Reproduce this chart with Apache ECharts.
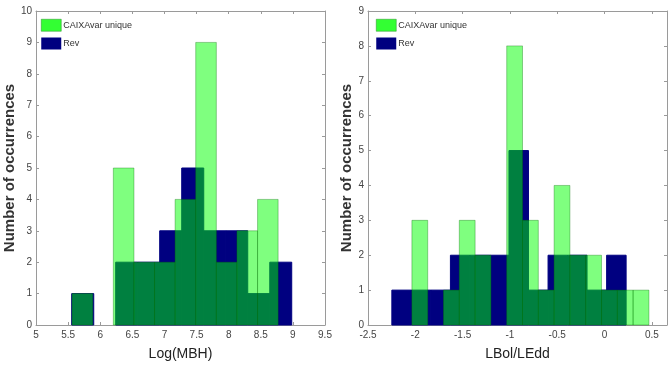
<!DOCTYPE html>
<html>
<head>
<meta charset="utf-8">
<script src="https://cdn.jsdelivr.net/npm/echarts@6/dist/echarts.min.js"></script>
<style>
html,body{margin:0;padding:0;background:#fff;}
#chart{width:669px;height:367px;}
</style>
</head>
<body>
<div id="chart"></div>
<script>
// ---- Data ----
const seriesNames = ['CAIXAvar unique', 'Rev'];

// Left panel: Log(MBH)
const leftRevEdges   = [5.556, 5.899, 6.241, 6.584, 6.926, 7.269, 7.612, 7.954, 8.297, 8.640, 8.982];
const leftRevCounts  = [1, 0, 2, 2, 3, 5, 3, 3, 1, 2];
const leftCaixaEdges = [5.562, 5.883, 6.204, 6.525, 6.846, 7.166, 7.487, 7.808, 8.129, 8.450, 8.770];
const leftCaixaCounts= [1, 0, 5, 2, 2, 4, 9, 2, 3, 4];

// Right panel: LBol/LEdd
const rightRevEdges   = [-2.248, -2.042, -1.835, -1.629, -1.423, -1.216, -1.010, -0.804, -0.597, -0.391, -0.185, 0.022, 0.228];
const rightRevCounts  = [1, 1, 1, 2, 2, 2, 5, 1, 2, 2, 1, 2];
const rightCaixaEdges = [-2.036, -1.869, -1.702, -1.535, -1.368, -1.201, -1.034, -0.867, -0.700, -0.533, -0.366, -0.199, -0.032, 0.135, 0.302, 0.469];
const rightCaixaCounts= [3, 0, 1, 3, 2, 0, 8, 3, 1, 4, 2, 2, 1, 1, 1];

// Axis ranges / ticks
const leftXRange  = [5, 9.5];   const leftXStep = 0.5;
const leftYRange  = [0, 10];    const leftYStep = 1;
const rightXRange = [-2.5, 0.66]; const rightXStep = 0.5;
const rightYRange = [0, 9];     const rightYStep = 1;

// ---- Build ----
function toBins(edges, counts){
  return counts.map((c, i) => [edges[i], edges[i+1], c]);
}
const FONT = "'Liberation Sans Narrow','Liberation Sans',Arial,sans-serif";
const AXIS_COLOR = '#9a9a9a';
const LABEL_COLOR = '#444';

function makeRender(fill, stroke){
  return function(params, api){
    const x0 = api.value(0), x1 = api.value(1), c = api.value(2);
    if (!c) return null;
    const p0 = api.coord([x0, c]);
    const p1 = api.coord([x1, 0]);
    return {
      type: 'rect',
      shape: {x: p0[0], y: p0[1], width: p1[0]-p0[0], height: p1[1]-p0[1]},
      style: {fill: fill, stroke: stroke, lineWidth: 1}
    };
  };
}

function xAx(grid, range, step, pos, name){
  const a = {
    type: 'value', gridIndex: grid, position: pos, min: range[0], max: range[1], interval: step,
    axisLine: {show: true, onZero: false, lineStyle: {color: AXIS_COLOR, width: 1}},
    axisTick: {show: true, inside: true, length: 3, lineStyle: {color: AXIS_COLOR}},
    splitLine: {show: false},
    axisLabel: {show: pos === 'bottom', color: LABEL_COLOR, fontSize: 10, fontFamily: FONT, margin: 5, showMaxLabel: range[1] % step === 0}
  };
  if (name){
    a.name = name; a.nameLocation = 'middle'; a.nameGap = 22;
    a.nameTextStyle = {color: '#222', fontSize: 14, fontFamily: FONT};
  }
  return a;
}
function yAx(grid, range, step, pos, name, gap){
  const a = {
    type: 'value', gridIndex: grid, position: pos, min: range[0], max: range[1], interval: step,
    axisLine: {show: true, onZero: false, lineStyle: {color: AXIS_COLOR, width: 1}},
    axisTick: {show: true, inside: true, length: 3, lineStyle: {color: AXIS_COLOR}},
    splitLine: {show: false},
    axisLabel: {show: pos === 'left', color: LABEL_COLOR, fontSize: 10, fontFamily: FONT, margin: 4}
  };
  if (name){
    a.name = name; a.nameLocation = 'middle'; a.nameGap = gap; a.nameRotate = 90;
    a.nameTextStyle = {color: '#333', fontSize: 15, fontWeight: 'bold', fontFamily: "'Liberation Sans',Arial,sans-serif"};
  }
  return a;
}

const GREEN = 'rgba(0,255,0,0.5)';
const GREEN_EDGE = 'rgba(0,110,0,0.35)';
const NAVY = '#000080';

function legendFor(left){
  return {
    orient: 'vertical', left: left, top: 19, itemWidth: 20, itemHeight: 12, itemGap: 6,
    icon: 'rect', padding: 0,
    textStyle: {color: '#333', fontSize: 9, fontFamily: FONT, padding: [0,0,0,-3]},
    data: [
      {name: seriesNames[0], itemStyle: {color: '#33ff33', opacity: 1, borderColor: '#2a8a2a', borderWidth: 0.5}},
      {name: seriesNames[1], itemStyle: {color: NAVY, opacity: 1}}
    ]
  };
}

const option = {
  animation: false,
  backgroundColor: '#fff',
  grid: [
    {left: 36, top: 11, width: 289, height: 314},
    {left: 368, top: 11, width: 299, height: 314}
  ],
  legend: [legendFor(41), legendFor(376)],
  xAxis: [
    xAx(0, leftXRange, leftXStep, 'bottom', 'Log(MBH)'),
    xAx(0, leftXRange, leftXStep, 'top'),
    xAx(1, rightXRange, rightXStep, 'bottom', 'LBol/LEdd'),
    xAx(1, rightXRange, rightXStep, 'top')
  ],
  yAxis: [
    yAx(0, leftYRange, leftYStep, 'left', 'Number of occurrences', 17),
    yAx(0, leftYRange, leftYStep, 'right'),
    yAx(1, rightYRange, rightYStep, 'left', 'Number of occurrences', 9),
    yAx(1, rightYRange, rightYStep, 'right')
  ],
  series: [
    {type: 'custom', name: seriesNames[1], xAxisIndex: 0, yAxisIndex: 0, itemStyle: {color: NAVY},
     renderItem: makeRender(NAVY, NAVY), encode: {x: [0,1], y: 2}, data: toBins(leftRevEdges, leftRevCounts), z: 2},
    {type: 'custom', name: seriesNames[0], xAxisIndex: 0, yAxisIndex: 0, itemStyle: {color: '#33ff33'},
     renderItem: makeRender(GREEN, GREEN_EDGE), encode: {x: [0,1], y: 2}, data: toBins(leftCaixaEdges, leftCaixaCounts), z: 3},
    {type: 'custom', name: seriesNames[1], xAxisIndex: 2, yAxisIndex: 2, itemStyle: {color: NAVY},
     renderItem: makeRender(NAVY, NAVY), encode: {x: [0,1], y: 2}, data: toBins(rightRevEdges, rightRevCounts), z: 2},
    {type: 'custom', name: seriesNames[0], xAxisIndex: 2, yAxisIndex: 2, itemStyle: {color: '#33ff33'},
     renderItem: makeRender(GREEN, GREEN_EDGE), encode: {x: [0,1], y: 2}, data: toBins(rightCaixaEdges, rightCaixaCounts), z: 3}
  ]
};

const chart = echarts.init(document.getElementById('chart'), null, {renderer: 'canvas'});
chart.setOption(option);
</script>
</body>
</html>
